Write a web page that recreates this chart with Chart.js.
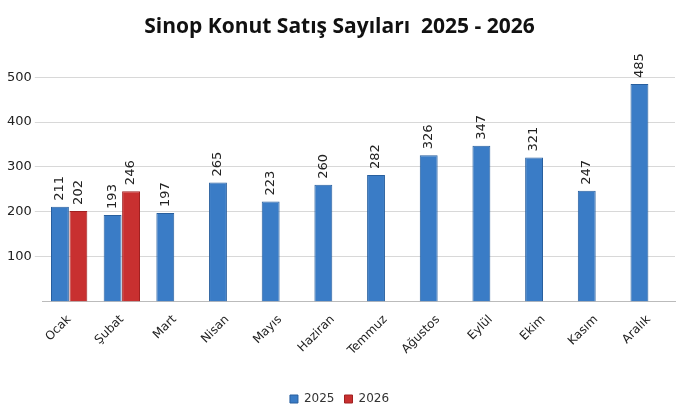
<!DOCTYPE html>
<html><head><meta charset="utf-8">
<script src="https://cdn.jsdelivr.net/npm/chart.js@4/dist/chart.umd.min.js"></script>
<style>html,body{margin:0;background:#fff}#w{width:677px;height:415px}</style>
</head><body><div id="w"><canvas id="c"></canvas></div>
<script>
const categories=["Ocak","Şubat","Mart","Nisan","Mayıs","Haziran","Temmuz","Ağustos","Eylül","Ekim","Kasım","Aralık"];
const values2025=[211,193,197,265,223,260,282,326,347,321,247,485];
const values2026=[202,246,null,null,null,null,null,null,null,null,null,null];
const yTicks=[100,200,300,400,500];

const labelsPlugin={id:'vlabels',afterDatasetsDraw(chart){
  const c=chart.ctx;c.save();c.font='13px "DejaVu Sans"';c.fillStyle='#222';c.textAlign='left';c.textBaseline='middle';
  chart.data.datasets.forEach((ds,i)=>{chart.getDatasetMeta(i).data.forEach((b,j)=>{
    const v=ds.data[j];if(v==null)return;
    c.save();c.translate(b.x,b.y-6);c.rotate(-Math.PI/2);c.fillText(String(v),0,0);c.restore();});});
  c.restore();}};
new Chart(document.getElementById('c'),{type:'bar',
 data:{labels:categories,datasets:[
  {label:'2025',data:values2025,backgroundColor:'#3a7cc6',borderColor:'#285f9e',borderWidth:1},
  {label:'2026',data:values2026,backgroundColor:'#c83030',borderColor:'#a02020',borderWidth:1}]},
 options:{responsive:true,maintainAspectRatio:false,animation:false,
  layout:{padding:{left:4,right:2,top:0,bottom:0}},
  datasets:{bar:{categoryPercentage:0.7,barPercentage:0.97}},
  plugins:{title:{display:true,text:'Sinop Konut Satış Sayıları  2025 - 2026',font:{family:'"Open Sans"',size:21,weight:'bold'},color:'#111',padding:{top:14,bottom:38}},
   legend:{position:'bottom',labels:{boxWidth:8,boxHeight:8,font:{size:12,family:'"DejaVu Sans"'},color:'#333',padding:10}},tooltip:{enabled:false}},
  scales:{x:{grid:{display:false},border:{color:'#bbb'},afterFit:s=>{s.height+=22},ticks:{maxRotation:45,minRotation:45,font:{size:12,family:'"DejaVu Sans"'},color:'#222'}},
   y:{min:0,max:500,afterBuildTicks:a=>{a.ticks=yTicks.map(v=>({value:v}))},grid:{color:'#d8d8d8'},border:{display:false},
    ticks:{font:{size:13,family:'"DejaVu Sans"'},color:'#222'}}}},
 plugins:[labelsPlugin]});
</script></body></html>
